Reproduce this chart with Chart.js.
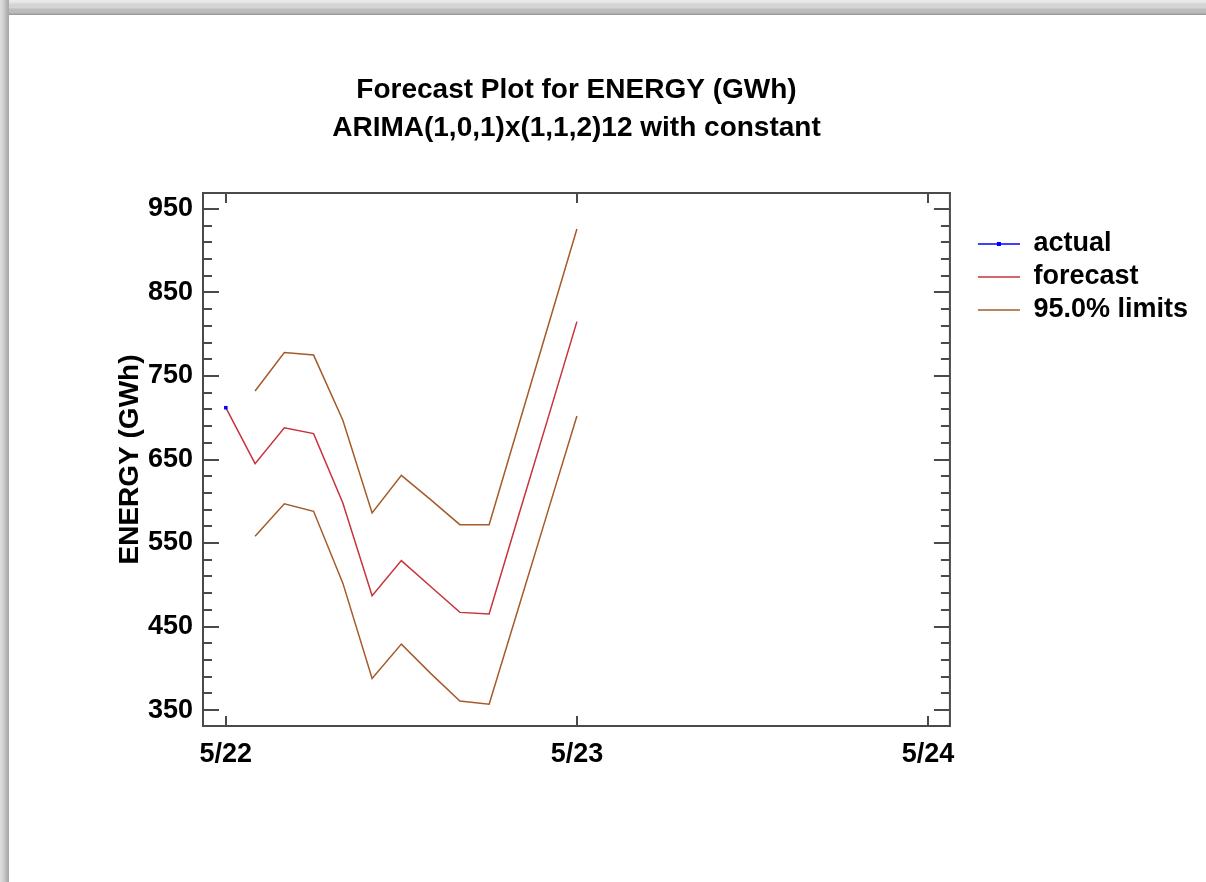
<!DOCTYPE html>
<html lang="en">
<head>
  <meta charset="UTF-8">
  <title>Forecast Plot for ENERGY (GWh)</title>
  <script src="https://cdn.jsdelivr.net/npm/chart.js"></script>
  <style>
    html, body {
      margin: 0;
      padding: 0;
      background: #fff;
      overflow: hidden;
    }
    #wrap {
      position: relative;
      width: 1206px;
      height: 882px;
    }
    #grafico {
      position: absolute;
      left: 0;
      top: 0;
    }
    .bordaTopo {
      position: absolute;
      left: 0;
      top: 0;
      width: 1206px;
      height: 15px;
      background: linear-gradient(to bottom, #ececec 0px, #e2e2e2 3px, #d4d4d4 4px, #d4d4d4 8px, #bcbcbc 9px, #bcbcbc 13px, #9c9c9c 14px, #9c9c9c 15px);
    }
    .bordaEsq {
      position: absolute;
      left: 0;
      top: 0;
      width: 9px;
      height: 882px;
      background: linear-gradient(to right, #e0e0e0 0px, #d2d2d2 3px, #c4c4c4 5px, #b0b0b0 7px, #a8a8a8 9px);
    }
  </style>
</head>
<body>
  <div id="wrap">
    <canvas id="grafico" width="1206" height="882"></canvas>
    <div class="bordaTopo"></div>
    <div class="bordaEsq"></div>
  </div>

  <script>
    // dados (meses a partir de 5/22)
    const mesesReal = [0];
    const valoresReal = [712];

    const mesesPrev = [0, 1, 2, 3, 4, 5, 6, 7, 8, 9, 10, 11, 12];
    const valoresPrev = [712, 645, 688, 681, 598, 487, 529, 498, 467, 465, 582, 698, 815];

    const mesesLimite = [1, 2, 3, 4, 5, 6, 7, 8, 9, 10, 11, 12];
    const limiteSup = [732, 778, 775, 697, 586, 631, 602, 572, 572, 690, 808, 926];
    const limiteInf = [558, 597, 588, 502, 388, 429, 394, 361, 357, 472, 587, 702];

    const xTicks = [0, 12, 24];
    const xRotulos = ['5/22', '5/23', '5/24'];
    const yRotulos = [350, 450, 550, 650, 750, 850, 950];

    const corReal = '#0000ff';
    const corPrev = '#c8323c';
    const corLimite = '#a65a2a';
    const corEixo = '#4a4a4a';

    const pares = (xs, ys) => xs.map((x, i) => ({ x: x, y: ys[i] }));

    // amostra de linha para a legenda
    function amostra(cor, comPonto) {
      const c = document.createElement('canvas');
      c.width = 64;
      c.height = 8;
      const g = c.getContext('2d');
      g.strokeStyle = cor;
      g.lineWidth = 1.5;
      g.beginPath();
      g.moveTo(22, 4);
      g.lineTo(64, 4);
      g.stroke();
      if (comPonto) {
        g.fillStyle = cor;
        g.fillRect(41, 2, 4, 4);
      }
      return c;
    }

    // moldura e marcas internas dos eixos
    const moldura = {
      id: 'moldura',
      afterDraw(chart) {
        const ctx = chart.ctx;
        const a = chart.chartArea;
        const sx = chart.scales.x;
        const sy = chart.scales.y;
        ctx.save();
        ctx.strokeStyle = corEixo;
        ctx.lineWidth = 2;
        ctx.strokeRect(a.left, a.top, a.right - a.left, a.bottom - a.top);
        ctx.beginPath();
        sy.ticks.forEach(t => {
          const y = Math.round(sy.getPixelForValue(t.value));
          const len = yRotulos.includes(t.value) ? 16 : 9;
          ctx.moveTo(a.left, y); ctx.lineTo(a.left + len, y);
          ctx.moveTo(a.right, y); ctx.lineTo(a.right - len, y);
        });
        xTicks.forEach(v => {
          const x = Math.round(sx.getPixelForValue(v));
          ctx.moveTo(x, a.bottom); ctx.lineTo(x, a.bottom - 10);
          ctx.moveTo(x, a.top); ctx.lineTo(x, a.top + 10);
        });
        ctx.stroke();
        ctx.restore();
      }
    };

    Chart.defaults.font.family = "'Liberation Sans', Arial, sans-serif";
    Chart.defaults.color = '#000';

    new Chart(document.getElementById('grafico'), {
      type: 'line',
      data: {
        datasets: [
          {
            label: 'actual',
            data: pares(mesesReal, valoresReal),
            borderColor: corReal,
            backgroundColor: corReal,
            borderWidth: 1.5,
            pointStyle: 'rect',
            pointRadius: 2.5,
            pointBorderWidth: 0,
            order: 0
          },
          {
            label: 'forecast',
            data: pares(mesesPrev, valoresPrev),
            borderColor: corPrev,
            borderWidth: 1.5,
            pointRadius: 0,
            order: 1
          },
          {
            label: '95.0% limits',
            data: pares(mesesLimite, limiteSup),
            borderColor: corLimite,
            borderWidth: 1.5,
            pointRadius: 0,
            order: 2
          },
          {
            label: 'lower',
            data: pares(mesesLimite, limiteInf),
            borderColor: corLimite,
            borderWidth: 1.5,
            pointRadius: 0,
            order: 2
          }
        ]
      },
      options: {
        responsive: false,
        animation: false,
        devicePixelRatio: 1,
        layout: { padding: { left: 0, top: 0, right: 8, bottom: 0 } },
        plugins: {
          title: {
            display: true,
            fullSize: false,
            text: ['Forecast Plot for ENERGY (GWh)', 'ARIMA(1,0,1)x(1,1,2)12 with constant'],
            font: { size: 28, weight: 'bold', lineHeight: 38 / 28 },
            color: '#000',
            padding: { top: 71, bottom: 46 }
          },
          legend: {
            position: 'right',
            align: 'start',
            fullSize: false,
            title: { display: true, text: ' ', font: { size: 10 }, padding: { top: 19.5, bottom: 0 } },
            labels: {
              usePointStyle: true,
              pointStyleWidth: 64,
              boxHeight: 27,
              padding: 6,
              font: { size: 27, weight: 'bold' },
              color: '#000',
              generateLabels: () => [
                { text: 'actual', pointStyle: amostra(corReal, true), fillStyle: corReal, strokeStyle: corReal, lineWidth: 0, hidden: false, datasetIndex: 0 },
                { text: 'forecast', pointStyle: amostra(corPrev, false), fillStyle: corPrev, strokeStyle: corPrev, lineWidth: 0, hidden: false, datasetIndex: 1 },
                { text: '95.0% limits', pointStyle: amostra(corLimite, false), fillStyle: corLimite, strokeStyle: corLimite, lineWidth: 0, hidden: false, datasetIndex: 2 }
              ]
            },
            onClick: null
          },
          tooltip: { enabled: false }
        },
        scales: {
          x: {
            type: 'linear',
            min: -0.78,
            max: 24.75,
            grid: { display: false, drawTicks: false },
            border: { display: false },
            afterBuildTicks: s => { s.ticks = xTicks.map(v => ({ value: v })); },
            afterFit: s => { s.height = 156; },
            ticks: {
              autoSkip: false,
              maxRotation: 0,
              padding: 12,
              font: { size: 27, weight: 'bold' },
              callback: v => xRotulos[xTicks.indexOf(v)]
            }
          },
          y: {
            min: 331,
            max: 969,
            grid: { display: false, drawTicks: false },
            border: { display: false },
            afterBuildTicks: s => {
              const lista = [];
              for (let v = yRotulos[0]; v <= yRotulos[yRotulos.length - 1]; v += 20) lista.push({ value: v });
              s.ticks = lista;
            },
            afterFit: s => { s.width = 203; },
            ticks: {
              autoSkip: false,
              padding: 10,
              font: { size: 27, weight: 'bold' },
              callback: v => yRotulos.includes(v) ? String(v) : ''
            },
            title: {
              display: true,
              text: 'ENERGY (GWh)',
              font: { size: 28, weight: 'bold' },
              padding: { top: 113, bottom: 0 }
            }
          }
        }
      },
      plugins: [moldura]
    });
  </script>
</body>
</html>
